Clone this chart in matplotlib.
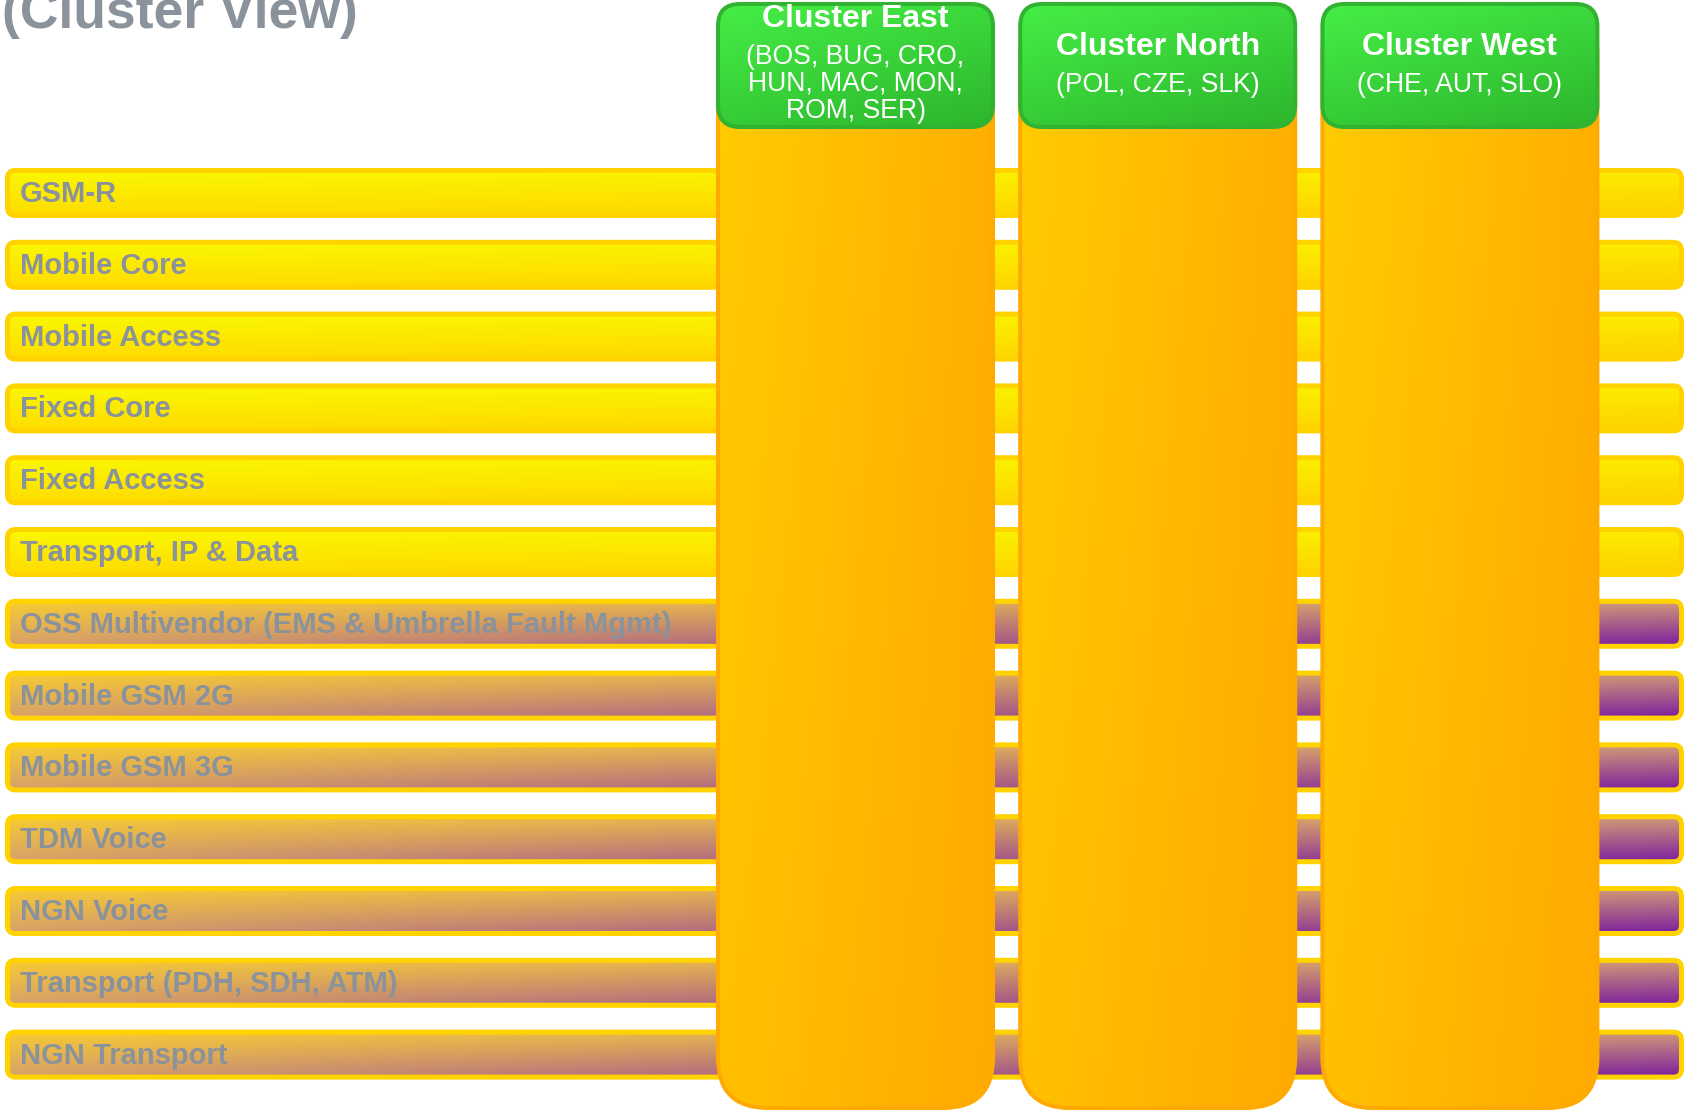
import numpy as np
import matplotlib
matplotlib.use("Agg")
import matplotlib.pyplot as plt
from matplotlib.patches import FancyBboxPatch
from matplotlib.colors import to_rgb

# ---------------- data ----------------
title = "(Cluster View)"
categories = [
    "GSM-R", "Mobile Core", "Mobile Access", "Fixed Core", "Fixed Access",
    "Transport, IP & Data", "OSS Multivendor (EMS & Umbrella Fault Mgmt)",
    "Mobile GSM 2G", "Mobile GSM 3G", "TDM Voice", "NGN Voice",
    "Transport (PDH, SDH, ATM)", "NGN Transport",
]
category_group = ["yellow"] * 6 + ["purple"] * 7
clusters = ["Cluster East", "Cluster North", "Cluster West"]
cluster_countries = [
    ["(BOS, BUG, CRO,", "HUN, MAC, MON,", "ROM, SER)"],
    ["(POL, CZE, SLK)"],
    ["(CHE, AUT, SLO)"],
]

# ---------------- styles ----------------
W, H = 1686, 1111
GRAY = "#8A929C"
BAR_CORNERS = {
    "yellow": ("#F9F900", "#FBEE00", "#FFDC00", "#FFD000"),
    "purple": ("#F8CC30", "#D09A78", "#D6A06C", "#7C1E9F"),
}
BAR_EDGE = "#FFD300"
COL_CORNERS = ("#FFCD00", "#FFB000", "#FFC000", "#FFAA00")
COL_EDGE = "#FFAA00"
HEAD_CORNERS = ("#46EE46", "#3CDA3C", "#36CC36", "#2DB52D")
HEAD_EDGE = "#31B331"

plt.rcParams["font.family"] = ["Liberation Sans", "DejaVu Sans"]

fig = plt.figure(figsize=(W / 100, H / 100), dpi=100)
ax = fig.add_axes([0, 0, 1, 1])
ax.set_xlim(0, W)
ax.set_ylim(H, 0)
ax.axis("off")


def bilinear(corners, nx=300, ny=120):
    tl, tr, bl, br = [np.array(to_rgb(c)) for c in corners]
    X, Y = np.meshgrid(np.linspace(0, 1, nx), np.linspace(0, 1, ny))
    X = X[..., None]
    Y = Y[..., None]
    top = tl * (1 - X) + tr * X
    bot = bl * (1 - X) + br * X
    return top * (1 - Y) + bot * Y


def grad_box(x0, y0, w, h, r, corners, edge, lw, z):
    patch = FancyBboxPatch((x0, y0), w, h,
                           boxstyle=f"round,pad=0,rounding_size={r}",
                           facecolor="none", edgecolor=edge, linewidth=lw,
                           zorder=z + 0.5)
    ax.add_patch(patch)
    im = ax.imshow(bilinear(corners), extent=(x0, x0 + w, y0 + h, y0),
                   origin="upper", aspect="auto", zorder=z,
                   interpolation="bilinear")
    im.set_clip_path(patch)
    return patch


# ---------------- rows (bars) ----------------
row_top0, row_step, row_h = 170.5, 71.8, 45
bar_x0, bar_x1 = 7.5, 1681.5
for i, (cat, grp) in enumerate(zip(categories, category_group)):
    y0 = row_top0 + i * row_step
    grad_box(bar_x0, y0, bar_x1 - bar_x0, row_h, 8, BAR_CORNERS[grp],
             BAR_EDGE, 3.6, 1)
    ax.text(20, y0 + row_h / 2 + 1, cat, color=GRAY, fontsize=21,
            fontweight="bold", va="center", ha="left", zorder=3)

# ---------------- cluster columns ----------------
col_x0, col_step, col_w = 718, 302.2, 275
col_top, col_bot = 4, 1108
head_h = 123
line_step = 27
for j, (name, lines) in enumerate(zip(clusters, cluster_countries)):
    x0 = col_x0 + j * col_step
    grad_box(x0, col_top, col_w, col_bot - col_top, 50, COL_CORNERS,
             COL_EDGE, 2.9, 4)
    grad_box(x0, col_top, col_w, head_h, 22, HEAD_CORNERS,
             HEAD_EDGE, 2.9, 6)
    cx = x0 + col_w / 2
    if len(lines) > 1:
        ty, sy = 19, 57
    else:
        ty, sy = 47, 85
    ax.text(cx, ty, name, color="white", fontsize=23, fontweight="bold",
            ha="center", va="center", zorder=8)
    for k, ln in enumerate(lines):
        ax.text(cx, sy + k * line_step, ln, color="white", fontsize=19.2,
                ha="center", va="center", zorder=8)

# ---------------- title ----------------
ax.text(2, 28, title, color=GRAY, fontsize=38.5, fontweight="bold",
        ha="left", va="baseline", zorder=9)

fig.savefig("out.png", dpi=100)
